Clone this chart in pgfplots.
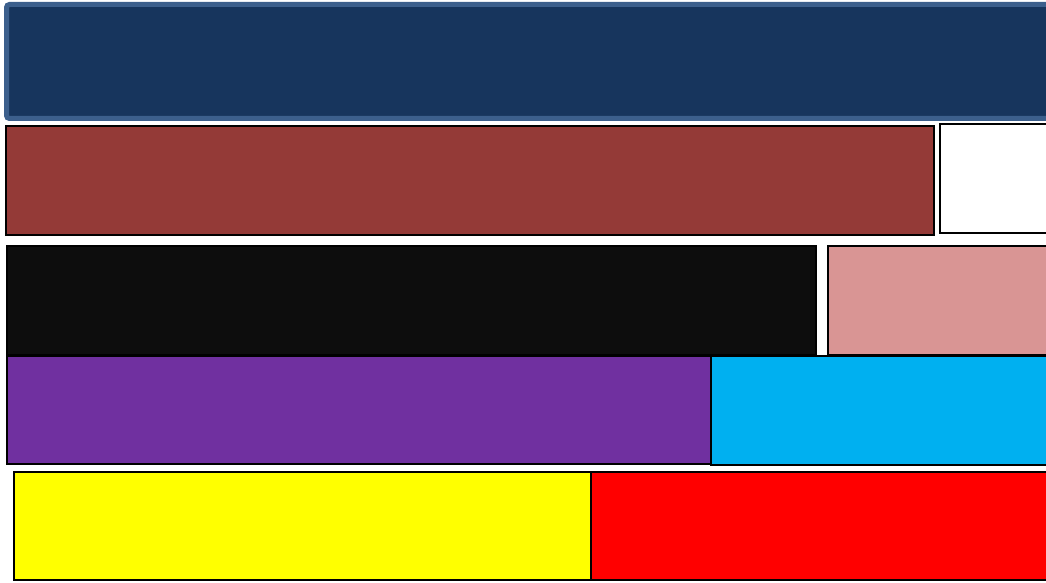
\documentclass[border=0pt]{standalone}
\usepackage{pgfplots}
\pgfplotsset{compat=1.18}
\definecolor{navyfill}{HTML}{17355D}
\definecolor{navyedge}{HTML}{3C5F8C}
\definecolor{brown}{HTML}{943A37}
\definecolor{nearblack}{HTML}{0D0D0D}
\definecolor{pink}{HTML}{D99594}
\definecolor{purple}{HTML}{7030A0}
\definecolor{cyan}{HTML}{00B0F0}
\definecolor{pureyellow}{HTML}{FFFF00}
\definecolor{purered}{HTML}{FF0000}
\begin{document}
\begin{tikzpicture}
\begin{axis}[
    width=1046pt, height=583pt, scale only axis,
    xmin=0, xmax=1046, ymin=0, ymax=583,
    y dir=reverse,
    axis line style={draw=none},
    ticks=none,
    clip=true]
% row 1
\addplot[fill=navyfill, draw=navyedge, line width=5pt, rounded corners=3pt]
    coordinates {(6.5,4.5) (1070,4.5) (1070,118.5) (6.5,118.5)} -- cycle;
% row 2
\addplot[fill=brown, draw=black, line width=2pt]
    coordinates {(6,126) (934,126) (934,234.5) (6,234.5)} -- cycle;
\addplot[fill=white, draw=black, line width=2pt]
    coordinates {(940,124) (1070,124) (1070,232.5) (940,232.5)} -- cycle;
% row 3
\addplot[fill=nearblack, draw=black, line width=2pt]
    coordinates {(7,246) (816,246) (816,355) (7,355)} -- cycle;
\addplot[fill=pink, draw=black, line width=2pt]
    coordinates {(828,246) (1070,246) (1070,355) (828,355)} -- cycle;
% row 4
\addplot[fill=purple, draw=black, line width=2pt]
    coordinates {(7,356) (711,356) (711,464) (7,464)} -- cycle;
\addplot[fill=cyan, draw=black, line width=2pt]
    coordinates {(711,356) (1070,356) (1070,465) (711,465)} -- cycle;
% row 5
\addplot[fill=pureyellow, draw=black, line width=2pt]
    coordinates {(14,472) (591,472) (591,580) (14,580)} -- cycle;
\addplot[fill=purered, draw=black, line width=2pt]
    coordinates {(591,472) (1070,472) (1070,580) (591,580)} -- cycle;
\end{axis}
\end{tikzpicture}
\end{document}
